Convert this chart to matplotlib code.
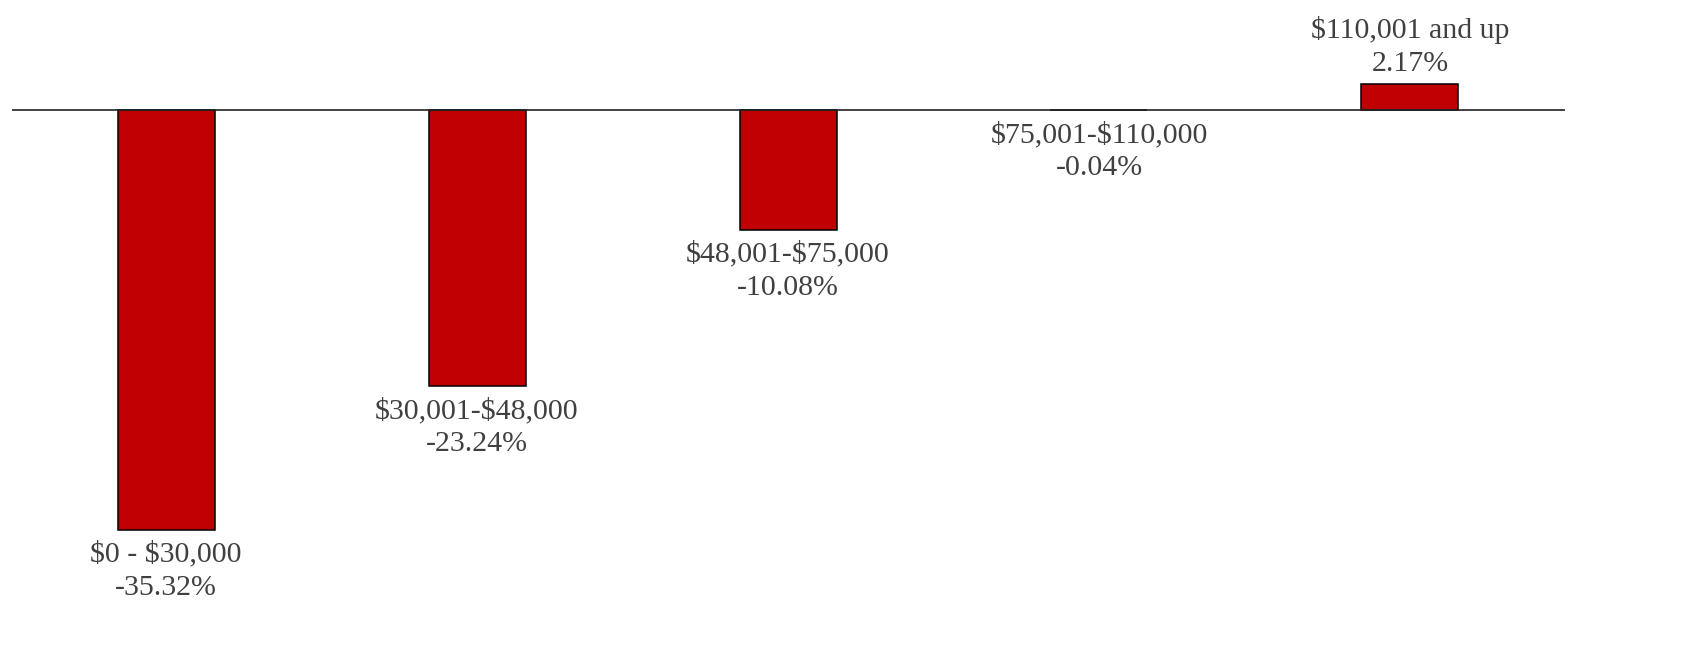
import matplotlib.pyplot as plt
import numpy as np

# Income brackets and percent change
brackets = ['$0 - $30,000', '$30,001-$48,000', '$48,001-$75,000',
            '$75,001-$110,000', '$110,001 and up']
changes = [-35.32, -23.24, -10.08, -0.04, 2.17]

fig = plt.figure(figsize=(16.83, 6.5), dpi=100)
ax = fig.add_axes([0, 0, 1, 1])

x = np.arange(len(brackets))
ax.bar(x, changes, width=0.312, color='#C00000', edgecolor='black', linewidth=1.1, zorder=2)

# zero line
ax.hlines(0, -0.495, 4.498, color='#222222', linewidth=1.2, zorder=3)

for xi, name, val in zip(x, brackets, changes):
    label = f"{name}\n{val:.2f}%"
    if val < 0:
        ax.annotate(label, (xi, val), xytext=(0, -8), textcoords='offset points',
                    ha='center', va='top', fontsize=21.5, family='Liberation Serif',
                    color='#404040', linespacing=1.36, parse_math=False)
    else:
        ax.annotate(label, (xi, val), xytext=(0, 5), textcoords='offset points',
                    ha='center', va='bottom', fontsize=21.5, family='Liberation Serif',
                    color='#404040', linespacing=1.36, parse_math=False)

ax.set_xlim(-0.534, 4.878)
ax.set_ylim(-45.42, 9.25)
ax.axis('off')

fig.savefig('out.png', dpi=100)
